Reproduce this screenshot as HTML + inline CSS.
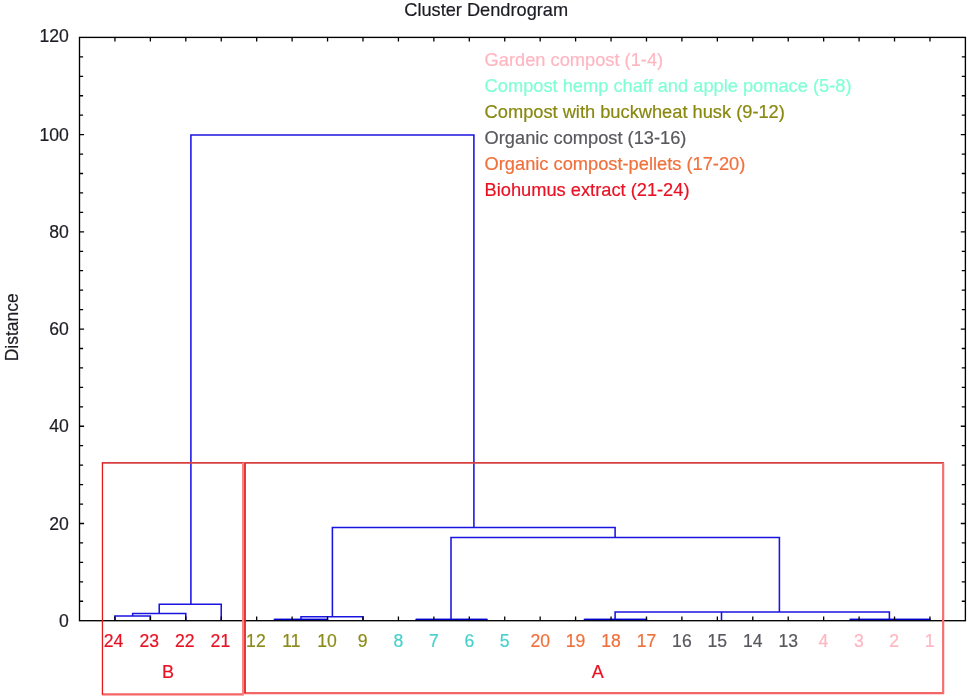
<!DOCTYPE html>
<html lang="en"><head><meta charset="utf-8"><title>Cluster Dendrogram</title>
<style>
html,body{margin:0;padding:0;background:#fff;}
body{width:968px;height:699px;overflow:hidden;}
svg{display:block;}
text{font-family:"Liberation Sans",sans-serif;font-size:18px;stroke-width:0.2px;}
.d{font-size:17.6px;}
.k{fill:#1c1c24;stroke:#1c1c24;}
.leg text{font-size:18.25px;}
</style></head><body>
<svg width="968" height="699" viewBox="0 0 968 699">
<rect x="0" y="0" width="968" height="699" fill="#fff"/>

<g fill="none">
<path d="M114.94 620.70V615.90H150.37V620.70M132.65 615.90V613.40H185.81V620.70M159.23 613.40V604.30H221.24V620.70M274.40 620.70V619.45H327.55V620.70M300.98 619.45V616.70H362.99V620.70M416.14 620.70V619.45H487.01V620.70M584.46 620.70V619.45H646.48V620.70M850.23 620.70V619.45H929.96V620.70M615.10 619.45V611.90H721.50V620.70M668.30 611.90V611.90H889.40V619.45M451.00 619.45V537.40H779.40V611.90M332.40 616.70V527.40H615.10V537.40M190.90 604.30V134.90H473.90V527.40" stroke="#1a14e0" stroke-width="1.55" stroke-linejoin="miter"/>
<path d="M274.40 619.45H327.55M416.14 619.45H487.01M584.46 619.45H646.48M850.23 619.45H929.96" stroke="#0000c8" stroke-width="1.2"/>
<path d="M114.94 37.4v4.2M114.94 620.7v-4.2M150.37 37.4v4.2M150.37 620.7v-4.2M185.81 37.4v4.2M185.81 620.7v-4.2M221.24 37.4v4.2M221.24 620.7v-4.2M256.68 37.4v4.2M256.68 620.7v-4.2M292.12 37.4v4.2M292.12 620.7v-4.2M327.55 37.4v4.2M327.55 620.7v-4.2M362.99 37.4v4.2M362.99 620.7v-4.2M398.42 37.4v4.2M398.42 620.7v-4.2M433.86 37.4v4.2M433.86 620.7v-4.2M469.30 37.4v4.2M469.30 620.7v-4.2M504.73 37.4v4.2M504.73 620.7v-4.2M540.17 37.4v4.2M540.17 620.7v-4.2M575.60 37.4v4.2M575.60 620.7v-4.2M611.04 37.4v4.2M611.04 620.7v-4.2M646.48 37.4v4.2M646.48 620.7v-4.2M681.91 37.4v4.2M681.91 620.7v-4.2M717.35 37.4v4.2M717.35 620.7v-4.2M752.78 37.4v4.2M752.78 620.7v-4.2M788.22 37.4v4.2M788.22 620.7v-4.2M823.66 37.4v4.2M823.66 620.7v-4.2M859.09 37.4v4.2M859.09 620.7v-4.2M894.53 37.4v4.2M894.53 620.7v-4.2M929.96 37.4v4.2M929.96 620.7v-4.2M79.5 601.26h3.6M965.4 601.26h-3.6M79.5 581.81h3.6M965.4 581.81h-3.6M79.5 562.37h3.6M965.4 562.37h-3.6M79.5 542.93h3.6M965.4 542.93h-3.6M79.5 523.48h4.6M965.4 523.48h-4.6M79.5 504.04h3.6M965.4 504.04h-3.6M79.5 484.60h3.6M965.4 484.60h-3.6M79.5 465.15h3.6M965.4 465.15h-3.6M79.5 445.71h3.6M965.4 445.71h-3.6M79.5 426.27h4.6M965.4 426.27h-4.6M79.5 406.82h3.6M965.4 406.82h-3.6M79.5 387.38h3.6M965.4 387.38h-3.6M79.5 367.94h3.6M965.4 367.94h-3.6M79.5 348.49h3.6M965.4 348.49h-3.6M79.5 329.05h4.6M965.4 329.05h-4.6M79.5 309.61h3.6M965.4 309.61h-3.6M79.5 290.16h3.6M965.4 290.16h-3.6M79.5 270.72h3.6M965.4 270.72h-3.6M79.5 251.28h3.6M965.4 251.28h-3.6M79.5 231.83h4.6M965.4 231.83h-4.6M79.5 212.39h3.6M965.4 212.39h-3.6M79.5 192.95h3.6M965.4 192.95h-3.6M79.5 173.50h3.6M965.4 173.50h-3.6M79.5 154.06h3.6M965.4 154.06h-3.6M79.5 134.62h4.6M965.4 134.62h-4.6M79.5 115.17h3.6M965.4 115.17h-3.6M79.5 95.73h3.6M965.4 95.73h-3.6M79.5 76.29h3.6M965.4 76.29h-3.6M79.5 56.84h3.6M965.4 56.84h-3.6" stroke="#000" stroke-width="1.3"/>
<rect x="79.5" y="37.4" width="885.90" height="583.30" stroke="#000" stroke-width="1.35"/>
<path d="M101.8 462.9H243.8" stroke="#d84040" stroke-width="1.9"/>
<path d="M244.2 462.9H943.9" stroke="#d84040" stroke-width="1.9"/>
<path d="M101.8 694.4H243.9" stroke="#f56464" stroke-width="2.3"/>
<path d="M244.2 693.2H944.1" stroke="#f56464" stroke-width="2.2"/>
<path d="M102.45 462.9V694.4" stroke="#e01a1a" stroke-width="1.3"/>
<path d="M243 462.9V694.4" stroke="#ff8282" stroke-width="2"/>
<path d="M245 462.9V693.2" stroke="#e02424" stroke-width="1.8"/>
<path d="M943.15 462.9V693.2" stroke="#f66e6e" stroke-width="2.2"/>
</g>
<text class="k" x="486.2" y="16" text-anchor="middle" style="font-size:18.2px">Cluster Dendrogram</text>
<text class="k" transform="translate(17.8 327.3) rotate(-90)" text-anchor="middle" style="font-size:17.5px">Distance</text>
<text class="k d" x="68.8" y="626.8" text-anchor="end">0</text>
<text class="k d" x="68.8" y="529.6" text-anchor="end">20</text>
<text class="k d" x="68.8" y="432.4" text-anchor="end">40</text>
<text class="k d" x="68.8" y="335.2" text-anchor="end">60</text>
<text class="k d" x="68.8" y="237.9" text-anchor="end">80</text>
<text class="k d" x="68.8" y="140.7" text-anchor="end">100</text>
<text class="k d" x="68.8" y="41.9" text-anchor="end">120</text>
<text class="d" x="113.6" y="646.6" text-anchor="middle" fill="#e81224" stroke="#e81224">24</text>
<text class="d" x="149.2" y="646.6" text-anchor="middle" fill="#e81224" stroke="#e81224">23</text>
<text class="d" x="184.8" y="646.6" text-anchor="middle" fill="#e81224" stroke="#e81224">22</text>
<text class="d" x="220.4" y="646.6" text-anchor="middle" fill="#e81224" stroke="#e81224">21</text>
<text class="d" x="255.9" y="646.6" text-anchor="middle" fill="#8b8b1a" stroke="#8b8b1a">12</text>
<text class="d" x="291.5" y="646.6" text-anchor="middle" fill="#8b8b1a" stroke="#8b8b1a">11</text>
<text class="d" x="327.1" y="646.6" text-anchor="middle" fill="#8b8b1a" stroke="#8b8b1a">10</text>
<text class="d" x="362.7" y="646.6" text-anchor="middle" fill="#8b8b1a" stroke="#8b8b1a">9</text>
<text class="d" x="398.3" y="646.6" text-anchor="middle" fill="#48d1cc" stroke="#48d1cc">8</text>
<text class="d" x="433.8" y="646.6" text-anchor="middle" fill="#48d1cc" stroke="#48d1cc">7</text>
<text class="d" x="469.3" y="646.6" text-anchor="middle" fill="#48d1cc" stroke="#48d1cc">6</text>
<text class="d" x="504.7" y="646.6" text-anchor="middle" fill="#48d1cc" stroke="#48d1cc">5</text>
<text class="d" x="540.2" y="646.6" text-anchor="middle" fill="#f0703c" stroke="#f0703c">20</text>
<text class="d" x="575.6" y="646.6" text-anchor="middle" fill="#f0703c" stroke="#f0703c">19</text>
<text class="d" x="611.0" y="646.6" text-anchor="middle" fill="#f0703c" stroke="#f0703c">18</text>
<text class="d" x="646.5" y="646.6" text-anchor="middle" fill="#f0703c" stroke="#f0703c">17</text>
<text class="d" x="681.9" y="646.6" text-anchor="middle" fill="#58585f" stroke="#58585f">16</text>
<text class="d" x="717.3" y="646.6" text-anchor="middle" fill="#58585f" stroke="#58585f">15</text>
<text class="d" x="752.8" y="646.6" text-anchor="middle" fill="#58585f" stroke="#58585f">14</text>
<text class="d" x="788.2" y="646.6" text-anchor="middle" fill="#58585f" stroke="#58585f">13</text>
<text class="d" x="823.4" y="646.6" text-anchor="middle" fill="#ffb6c1" stroke="#ffb6c1">4</text>
<text class="d" x="858.8" y="646.6" text-anchor="middle" fill="#ffb6c1" stroke="#ffb6c1">3</text>
<text class="d" x="894.2" y="646.6" text-anchor="middle" fill="#ffb6c1" stroke="#ffb6c1">2</text>
<text class="d" x="929.7" y="646.6" text-anchor="middle" fill="#ffb6c1" stroke="#ffb6c1">1</text>
<text x="167.9" y="678.1" text-anchor="middle" fill="#e81224" stroke="#e81224">B</text>
<text x="597.8" y="678.1" text-anchor="middle" fill="#e81224" stroke="#e81224">A</text>
<g class="leg">
<text x="484.6" y="65.8" fill="#ffb6c1" stroke="#ffb6c1">Garden compost (1-4)</text>
<text x="484.6" y="91.9" fill="#7fffd4" stroke="#7fffd4">Compost hemp chaff and apple pomace (5-8)</text>
<text x="484.6" y="118.0" fill="#888810" stroke="#888810">Compost with buckwheat husk (9-12)</text>
<text x="484.6" y="144.1" fill="#58585f" stroke="#58585f">Organic compost (13-16)</text>
<text x="484.6" y="170.2" fill="#f0703c" stroke="#f0703c">Organic compost-pellets (17-20)</text>
<text x="484.6" y="196.3" fill="#e81224" stroke="#e81224">Biohumus extract (21-24)</text>
</g>
</svg></body></html>
